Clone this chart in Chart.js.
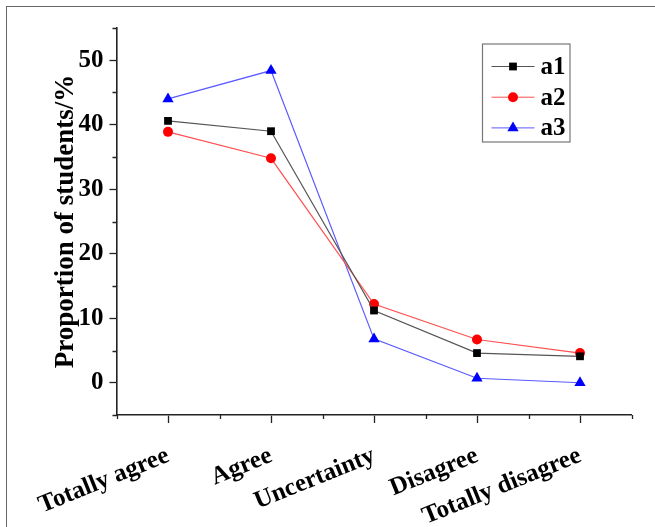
<!DOCTYPE html>
<html>
<head>
<meta charset="utf-8">
<script src="https://cdn.jsdelivr.net/npm/chart.js@4.4.1/dist/chart.umd.min.js"></script>
<style>
  body { margin: 0; background: #fff; }
  #wrap { position: relative; width: 655px; height: 527px; overflow: hidden; }
  #frame { position: absolute; left: 6px; top: 6px; width: 700px; height: 600px;
           border-left: 1.5px solid #666; border-top: 1.5px solid #666; }
  canvas { position: absolute; left: 0; top: 0; }
</style>
</head>
<body>
<div id="wrap">
  <div id="frame"></div>
  <canvas id="LineChart" width="655" height="527"></canvas>
</div>
<script>
const categories = ["Totally agree", "Agree", "Uncertainty", "Disagree", "Totally disagree"];
const a1 = [40.6, 39.0, 11.2, 4.6, 4.1];
const a2 = [38.9, 34.8, 12.2, 6.7, 4.6];
const a3 = [44.0, 48.4, 6.8, 0.7, 0.0];
const yTicks = [0, 10, 20, 30, 40, 50];

const FONT = "'Liberation Serif', 'Times New Roman', serif";
const AXIS = "#222";

// short minor ticks between the labelled ones
const minorTicks = {
  id: "minorTicks",
  afterDraw(chart) {
    const ctx = chart.ctx;
    const x = chart.scales.x;
    const y = chart.scales.y;
    ctx.save();
    ctx.strokeStyle = AXIS;
    ctx.lineWidth = 1.3;
    ctx.beginPath();
    y.ticks.forEach((t) => {
      if (yTicks.includes(t.value)) return;
      const py = Math.round(y.getPixelForValue(t.value)) + 0.5;
      ctx.moveTo(y.right - 4, py);
      ctx.lineTo(y.right, py);
    });
    for (let i = 0; i <= categories.length; i++) {
      const px = Math.round(x.getPixelForValue(i - 0.5)) + 0.5;
      ctx.moveTo(px, x.top);
      ctx.lineTo(px, x.top + 4);
    }
    ctx.stroke();
    ctx.restore();
  },
};

// framed legend inside the plot, top right
const boxLegend = {
  id: "boxLegend",
  afterDraw(chart) {
    const { ctx, chartArea } = chart;
    const x0 = chartArea.right - 149;
    const y0 = chartArea.top + 16;
    ctx.save();
    ctx.strokeStyle = "#777";
    ctx.lineWidth = 1.2;
    ctx.strokeRect(x0, y0, 87.5, 98);
    chart.data.datasets.forEach((ds, i) => {
      const yy = y0 + 22.5 + i * 30.7;
      ctx.strokeStyle = ds.borderColor;
      ctx.lineWidth = 1;
      ctx.beginPath();
      ctx.moveTo(x0 + 9, yy);
      ctx.lineTo(x0 + 52, yy);
      ctx.stroke();
      ctx.fillStyle = ds.pointBackgroundColor;
      Chart.helpers.drawPoint(ctx, { pointStyle: ds.pointStyle, radius: ds.pointRadius, borderWidth: 0, rotation: 0 }, x0 + 30.5, yy);
      ctx.fillStyle = "#000";
      ctx.font = "bold 25px " + FONT;
      ctx.textBaseline = "middle";
      ctx.fillText(ds.label, x0 + 58, yy + 1);
    });
    ctx.restore();
  },
};

let ctx = document.getElementById("LineChart").getContext("2d");
let LineChart = new Chart(ctx, {
  type: "line",
  data: {
    labels: categories,
    datasets: [
      {
        label: "a1",
        data: a1,
        borderColor: "#555",
        backgroundColor: "#000",
        pointBackgroundColor: "#000",
        pointStyle: "rect",
        pointRadius: 5.5,
        pointBorderWidth: 0,
        borderWidth: 1.2,
        tension: 0,
      },
      {
        label: "a2",
        data: a2,
        borderColor: "#ff5050",
        backgroundColor: "#ff0000",
        pointBackgroundColor: "#ff0000",
        pointStyle: "circle",
        pointRadius: 5,
        pointBorderWidth: 0,
        borderWidth: 1.2,
        tension: 0,
      },
      {
        label: "a3",
        data: a3,
        borderColor: "#5a5aff",
        backgroundColor: "#0000ff",
        pointBackgroundColor: "#0000ff",
        pointStyle: "triangle",
        pointRadius: 6.5,
        pointBorderWidth: 0,
        borderWidth: 1.2,
        tension: 0,
      },
    ],
  },
  options: {
    responsive: false,
    animation: false,
    layout: { padding: { top: 28, right: 23.5, left: 50, bottom: 0 } },
    plugins: { legend: { display: false }, tooltip: { enabled: false } },
    scales: {
      x: {
        type: "category",
        offset: true,
        afterFit: (s) => { s.height = 112; },
        border: { display: true, color: AXIS, width: 1.6 },
        grid: { drawOnChartArea: false, drawTicks: true, tickLength: 8, tickColor: AXIS, tickWidth: 1.3 },
        ticks: {
          color: "#000",
          font: { family: FONT, size: 25, weight: "bold" },
          minRotation: 22,
          maxRotation: 22,
          padding: 18,
          autoSkip: false,
        },
      },
      y: {
        min: -5,
        max: 55,
        afterFit: (s) => { s.width = 66.5; },
        border: { display: true, color: AXIS, width: 1.6 },
        grid: {
          drawOnChartArea: false,
          drawTicks: true,
          tickLength: 7,
          tickWidth: 1.3,
          tickColor: (c) => (c.tick && yTicks.includes(c.tick.value) ? AXIS : "rgba(0,0,0,0)"),
        },
        ticks: {
          stepSize: 5,
          autoSkip: false,
          color: "#000",
          padding: 6,
          font: { family: FONT, size: 25, weight: "bold" },
          callback: (v) => (yTicks.includes(v) ? String(v) : ""),
        },
        title: {
          display: true,
          text: "Proportion of students/%",
          color: "#000",
          padding: { top: 0, bottom: 4 },
          font: { family: FONT, size: 27, weight: "bold" },
        },
      },
    },
  },
  plugins: [minorTicks, boxLegend],
});
</script>
</body>
</html>
